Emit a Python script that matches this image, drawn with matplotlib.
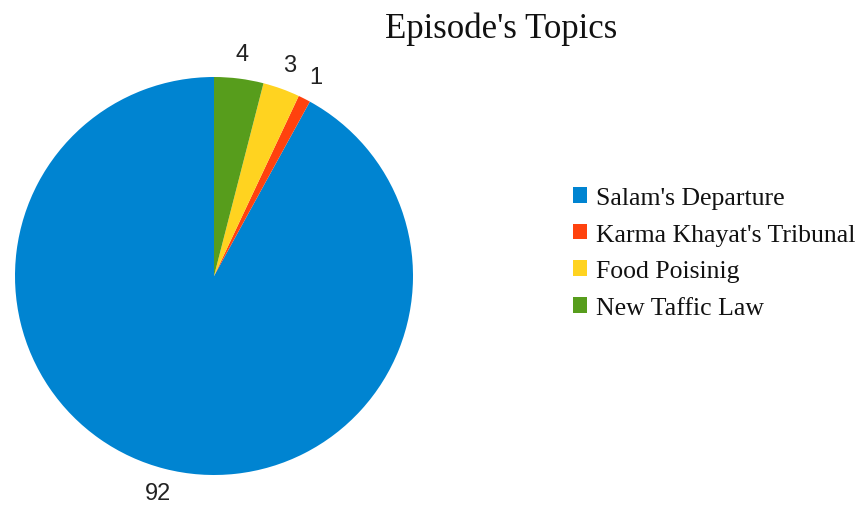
import matplotlib
matplotlib.use("Agg")
import matplotlib.pyplot as plt
from matplotlib.patches import Patch

# episode topic shares
topics = ["Salam's Departure", "Karma Khayat's Tribunal", "Food Poisinig", "New Taffic Law"]
counts = [92, 1, 3, 4]
colors = ["#0084d1", "#ff420e", "#ffd320", "#579d1c"]

fig = plt.figure(figsize=(8.68, 5.06), dpi=100)
ax = fig.add_axes([15 / 868, 30 / 506, 398 / 868, 398 / 506])

wedges, texts = ax.pie(counts, colors=colors, startangle=90, counterclock=True,
                       labels=[str(c) for c in counts], labeldistance=1.125,
                       wedgeprops=dict(linewidth=0),
                       textprops=dict(fontsize=17, family="Liberation Sans", color="#222222"))
for t in texts:
    t.set_ha("center")
    t.set_va("center")
ax.set_xlim(-1, 1)
ax.set_ylim(-1, 1)

fig.text(501 / 868, 1 - 38 / 506, "Episode's Topics", ha="center", va="baseline",
         family="Liberation Serif", fontsize=25, color="#111111")

handles = [Patch(facecolor=c, edgecolor="none") for c in colors]
fig.legend(handles, topics, loc="center left", bbox_to_anchor=(573 / 868, 1 - 254 / 506),
           frameon=False, prop=dict(family="Liberation Serif", size=18.5),
           borderpad=0, borderaxespad=0,
           handlelength=0.55, handleheight=0.55, handletextpad=0.35, labelspacing=0.57)
for t in fig.legends[0].get_texts():
    t.set_color("#111111")

fig.savefig("out.png", dpi=100)
